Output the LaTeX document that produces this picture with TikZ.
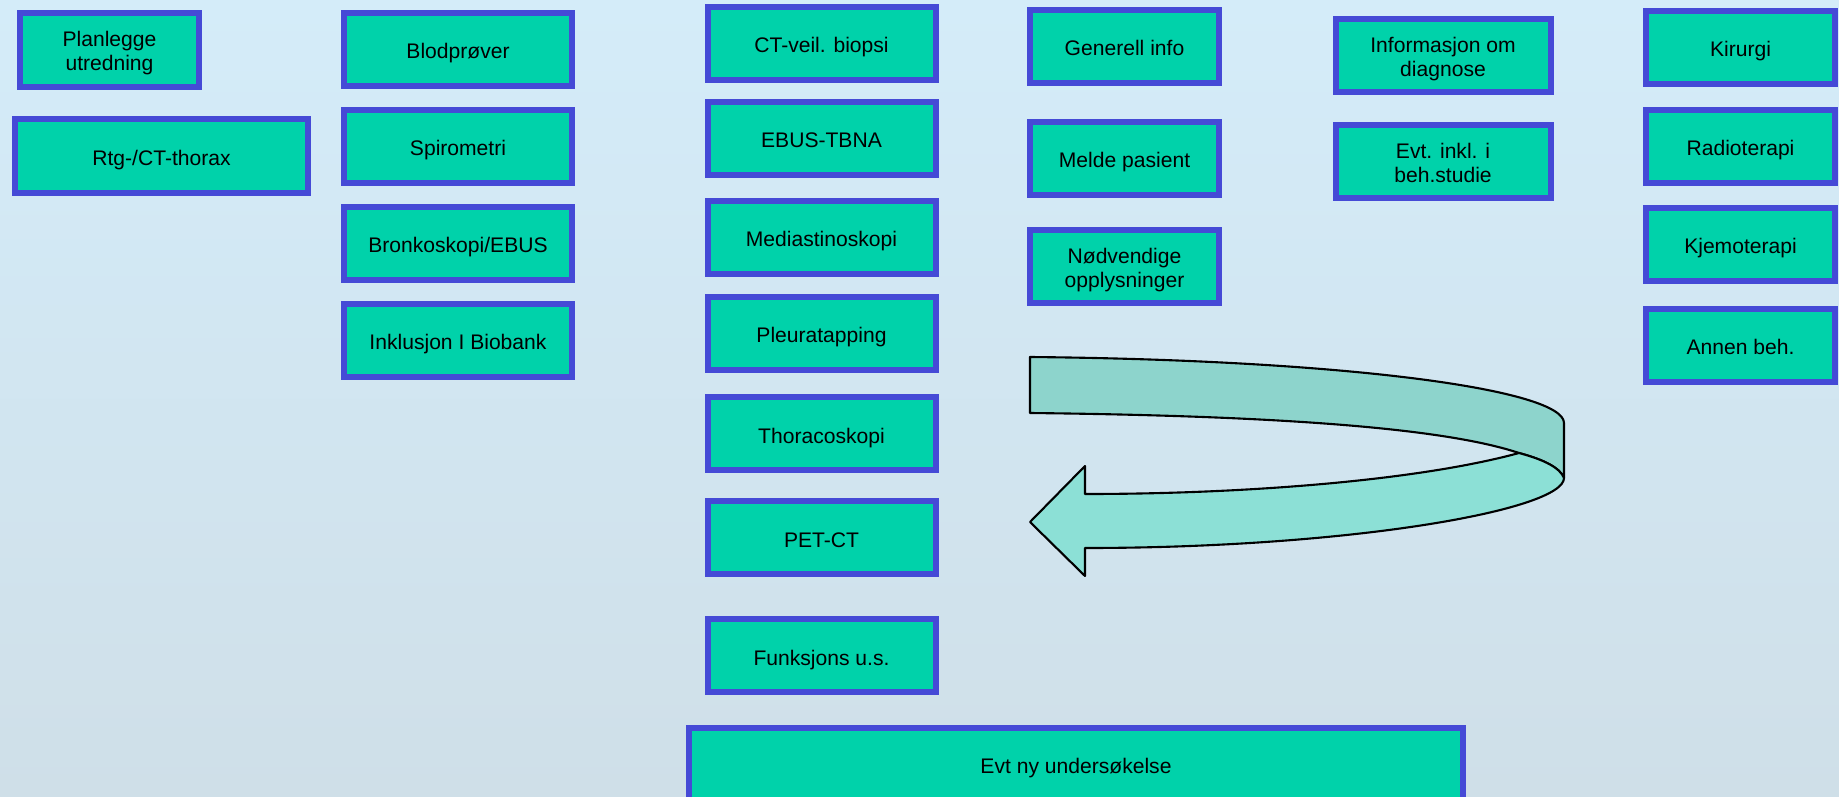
\documentclass[tikz,border=0pt]{standalone}
\usepackage{fontspec}
\setmainfont{Liberation Sans}
\usetikzlibrary{positioning}
\definecolor{boxfill}{RGB}{0,210,170}
\definecolor{boxline}{RGB}{69,74,214}
\definecolor{bgtop}{RGB}{212,236,249}
\definecolor{bgbottom}{RGB}{207,223,232}
\definecolor{bandback}{RGB}{141,212,204}
\definecolor{bandfront}{RGB}{140,224,214}

\begin{document}
\begin{tikzpicture}[
    x=0.25mm, y=-0.25mm,
    node distance=4.5mm and 7mm,
    every node/.style={font=\fontsize{15}{17}\selectfont},
    task/.style={rectangle, minimum width=57mm, minimum height=18.25mm, text centered, align=center, text height=16.5pt, text depth=3pt, draw=boxline, fill=boxfill, line width=1.5mm, outer sep=0.75mm, inner sep=2pt},
    twoline/.style={text height=32.5pt},
    band/.style={draw=black, line width=1.5pt, line join=round}
]
\useasboundingbox (0,0) rectangle (1839,797);
\clip (0,0) rectangle (1839,797);
\shade[top color=bgtop, bottom color=bgbottom] (0,0) rectangle (1839,797);

\node (plan) [task, twoline, minimum width=44.75mm] at (109.5,50) {Planlegge\\utredning};
\node (rtg) [task, minimum width=73.25mm] at (161.5,156) {Rtg-/CT-thorax};

\node (blod) [task] at (458,49.5) {Blodprøver};
\node (spiro) [task, below=of blod] {Spirometri};
\node (bronk) [task, below=of spiro] {Bronkoskopi/EBUS};
\node (inkl) [task, below=of bronk] {Inklusjon I Biobank};

\node (ctbiopsi) [task] at (821.5,43.5) {CT-veil. biopsi};
\node (ebus) [task, below=4mm of ctbiopsi] {EBUS-TBNA};
\node (medi) [task, below=5mm of ebus] {Mediastinoskopi};
\node (pleura) [task, below=4.25mm of medi] {Pleuratapping};
\node (thora) [task, below=5.25mm of pleura] {Thoracoskopi};
\node (petct) [task, below=6.25mm of thora] {PET-CT};
\node (funk) [task, below=9.75mm of petct] {Funksjons u.s.};
\node (nyus) [task, minimum width=193.5mm] at (1076,764) {Evt ny undersøkelse};

\node (geninfo) [task, minimum width=47.25mm] at (1124.5,46.5) {Generell info};
\node (melde) [task, minimum width=47.25mm, below=8.25mm of geninfo] {Melde pasient};
\node (nodv) [task, twoline, minimum width=47.25mm, below=7.25mm of melde] {Nødvendige\\opplysninger};

\node (diag) [task, twoline, minimum width=53.75mm] at (1443,55.5) {Informasjon om\\diagnose};
\node (studie) [task, twoline, minimum width=53.75mm, below=6.75mm of diag] {Evt. inkl. i\\beh.studie};

\node (kir) [task, minimum width=47.25mm] at (1740.5,47.5) {Kirurgi};
\node (radio) [task, minimum width=47.25mm, below=5mm of kir] {Radioterapi};
\node (kjemo) [task, minimum width=47.25mm, below=4.75mm of radio] {Kjemoterapi};
\node (annen) [task, minimum width=47.25mm, below=5.5mm of kjemo] {Annen beh.};

% curved arrow
\coordinate (tailtop) at (1030,357);
\coordinate (tailbot) at (1030,413);
\coordinate (rimtop) at (1564,423);
\coordinate (rimbot) at (1564,478);
\coordinate (cross) at (1519,453);
\coordinate (headin) at (1085,494);
\coordinate (headup) at (1085,466);
\coordinate (tip) at (1030,522);
\coordinate (headlow) at (1085,576);
\coordinate (headout) at (1085,548);

\draw [band, fill=bandback] (tailtop) .. controls (1350,360) and (1564,390) .. (rimtop) -- (rimbot)
    .. controls (1560,468) and (1545,460) .. (cross) .. controls (1450,430) and (1300,416) .. (tailbot) -- cycle;
\draw [band, fill=bandfront] (cross) .. controls (1545,460) and (1560,468) .. (rimbot)
    .. controls (1564,510) and (1350,548) .. (headout) -- (headlow) -- (tip) -- (headup) -- (headin)
    .. controls (1250,494) and (1420,480) .. (cross) -- cycle;
\end{tikzpicture}
\end{document}
